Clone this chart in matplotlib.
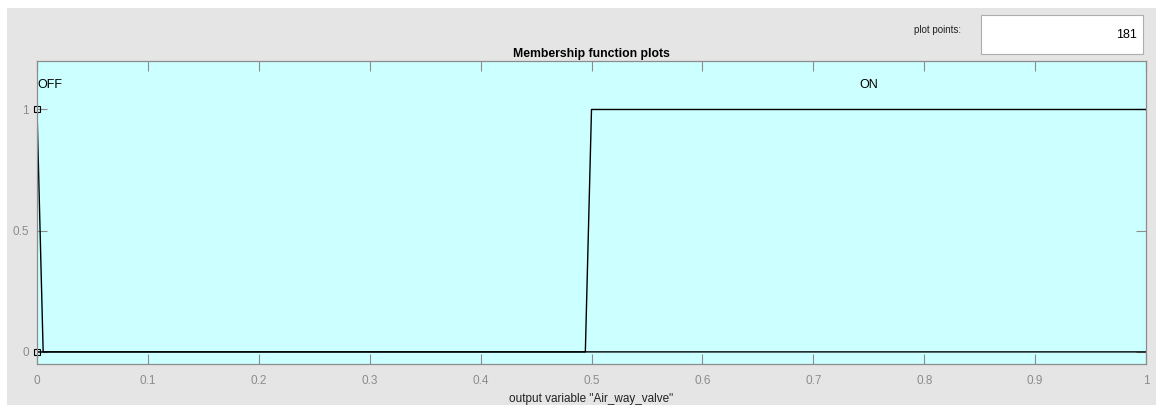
import numpy as np
import matplotlib.pyplot as plt
from matplotlib.patches import Rectangle

# membership functions sampled on 181 plot points
n_points = 181
x_step = 1.0 / (n_points - 1)
off_x = [0.0, x_step, 1.0]
off_y = [1.0, 0.0, 0.0]
on_x = [0.0, 0.5 - x_step, 0.5, 1.0]
on_y = [0.0, 0.0, 1.0, 1.0]
mf_names = ["OFF", "ON"]
mf_label_x = [0.0, 0.75]
handle_x = [0.0, 0.0]
handle_y = [1.0, 0.0]
x_ticks = [0, 0.1, 0.2, 0.3, 0.4, 0.5, 0.6, 0.7, 0.8, 0.9, 1]
x_ticklabels = ["0", "0.1", "0.2", "0.3", "0.4", "0.5", "0.6", "0.7", "0.8", "0.9", "1"]
y_ticks = [0, 0.5, 1]
y_ticklabels = ["0", "0.5", "1"]

plt.rcParams["font.family"] = ["Liberation Sans", "DejaVu Sans"]

W, H = 1156, 405
fig = plt.figure(figsize=(W / 100, H / 100), dpi=100, facecolor="white")

# grey panel with thin white border on top and left
fig.patches.append(Rectangle((7 / W, -0.01), 1.01 - 7 / W, 1.01 - 8 / H, transform=fig.transFigure,
                             facecolor="#e5e5e5", edgecolor="none", zorder=0))

# "plot points" box
fig.patches.append(Rectangle((981 / W, 1 - 54 / H), 162 / W, 39 / H, transform=fig.transFigure,
                             facecolor="white", edgecolor="#adadad", linewidth=0.8, zorder=1))
fig.text(938 / W, 1 - 30 / H, "plot points:", fontsize=7, ha="center", va="center", color="#222222")
fig.text(1137 / W, 1 - 35 / H, str(n_points), fontsize=9, ha="right", va="center", color="black")

ax = fig.add_axes([37 / W, 41 / H, 1109 / W, 303 / H])
ax.set_zorder(5)
ax.set_facecolor("#ccffff")

ax.plot(off_x, off_y, color="black", lw=1.0)
ax.plot(on_x, on_y, color="black", lw=1.0)
ax.plot(handle_x, handle_y, ls="none", marker="s", ms=5, mfc="none", mec="black", mew=0.8,
        clip_on=False)

for name, lx in zip(mf_names, mf_label_x):
    ax.text(lx, 1.1, name, fontsize=9, ha="left" if lx == 0 else "center", va="center",
            color="black")

ax.set_xlim(0, 1)
ax.set_ylim(-0.05, 1.2)
ax.set_xticks(x_ticks)
ax.set_xticklabels(x_ticklabels)
ax.set_yticks(y_ticks)
ax.set_yticklabels(y_ticklabels)
ax.tick_params(direction="in", length=7, width=0.8, color="#8c8c8c", labelcolor="#8c8c8c",
               labelsize=8.5, top=True, right=True)
ax.tick_params(axis="x", pad=8)
ax.tick_params(axis="y", pad=6)
for s in ax.spines.values():
    s.set_color("#8c8c8c")
    s.set_linewidth(0.9)

ax.set_title("Membership function plots", fontsize=8.8, fontweight="bold", pad=3)
ax.set_xlabel('output variable "Air_way_valve"', fontsize=8.5, labelpad=4, color="#222222")

fig.savefig("out.png", dpi=100, facecolor=fig.get_facecolor())
